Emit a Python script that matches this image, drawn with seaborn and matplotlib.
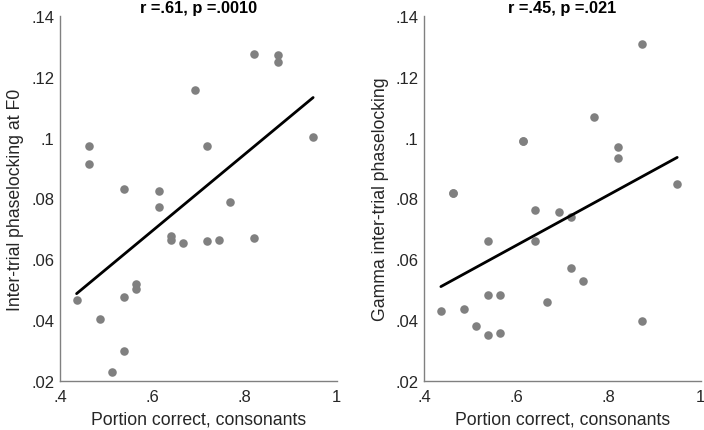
import matplotlib
matplotlib.use('Agg')
import matplotlib.pyplot as plt
from matplotlib.ticker import FuncFormatter
import numpy as np
import pandas as pd
import seaborn as sns

# Portion correct (consonants) vs phaselocking, two panels
f0_x = [0.436, 0.462, 0.462, 0.487, 0.513, 0.538, 0.538, 0.538, 0.564, 0.564,
        0.615, 0.615, 0.641, 0.641, 0.667, 0.692, 0.718, 0.718, 0.744, 0.769,
        0.821, 0.821, 0.872, 0.872, 0.949]
f0_y = [0.0466, 0.0973, 0.0913, 0.0403, 0.0229, 0.0831, 0.0477, 0.0299, 0.0518, 0.0503,
        0.0825, 0.0771, 0.0675, 0.0664, 0.0652, 0.1158, 0.0973, 0.0660, 0.0664, 0.0788,
        0.1276, 0.0670, 0.1271, 0.1248, 0.1003]

# two markers in this panel sit on top of others (.462 and .615)
gamma_x = [0.436, 0.462, 0.462, 0.487, 0.513, 0.538, 0.538, 0.538, 0.564, 0.564,
           0.615, 0.615, 0.641, 0.641, 0.667, 0.692, 0.718, 0.718, 0.744, 0.769,
           0.821, 0.821, 0.872, 0.872, 0.949]
gamma_y = [0.0430, 0.0819, 0.0819, 0.0437, 0.0379, 0.0659, 0.0482, 0.0351, 0.0482, 0.0358,
           0.0989, 0.0989, 0.0763, 0.0659, 0.0460, 0.0756, 0.0738, 0.0571, 0.0529, 0.1067,
           0.0969, 0.0932, 0.1308, 0.0395, 0.0848]

titles = ['r =.61, p =.0010', 'r =.45, p =.021']
ylabels = ['Inter-trial phaselocking at F0', 'Gamma inter-trial phaselocking']
xlabel = 'Portion correct, consonants'
xticks = [0.4, 0.6, 0.8, 1.0]
yticks = [0.02, 0.04, 0.06, 0.08, 0.10, 0.12, 0.14]

sns.set_style('white')
plt.rcParams['font.family'] = ['Liberation Sans', 'DejaVu Sans']

def no_lead_zero(v, pos):
    s = '%g' % round(v, 4)
    return s[1:] if s.startswith('0.') else s

fig = plt.figure(figsize=(7.04, 4.31), dpi=100)
axes = [fig.add_axes([0.0852, 0.1144, 0.393, 0.8455]),
        fig.add_axes([0.6027, 0.1144, 0.3926, 0.8455])]

panels = [(f0_x, f0_y), (gamma_x, gamma_y)]
for ax, (xs, ys), title, ylab in zip(axes, panels, titles, ylabels):
    df = pd.DataFrame({'x': xs, 'y': ys})
    sns.regplot(data=df, x='x', y='y', ax=ax, ci=None, truncate=True,
                scatter_kws={'color': '#808080', 's': 38, 'alpha': 1, 'linewidths': 0},
                line_kws={'color': 'black', 'lw': 2})
    ax.set_xlim(0.4, 1.0)
    ax.set_ylim(0.02, 0.14)
    ax.set_xticks(xticks)
    ax.set_yticks(yticks)
    ax.xaxis.set_major_formatter(FuncFormatter(no_lead_zero))
    ax.yaxis.set_major_formatter(FuncFormatter(no_lead_zero))
    ax.tick_params(direction='in', length=3, width=0.8, color='#808080',
                   labelsize=12, labelcolor='#262626')
    ax.tick_params(axis='x', pad=6)
    ax.tick_params(axis='y', pad=4)
    ax.set_xlabel(xlabel, fontsize=12.7, color='#262626', labelpad=5)
    ax.set_ylabel(ylab, fontsize=12.7, color='#262626', labelpad=5)
    ax.set_title(title, fontsize=11.8, fontweight='bold', color='black', pad=3)
    sns.despine(ax=ax)
    for side in ['left', 'bottom']:
        ax.spines[side].set_color('#808080')
        ax.spines[side].set_linewidth(1.0)

fig.savefig('out.png', dpi=100)
